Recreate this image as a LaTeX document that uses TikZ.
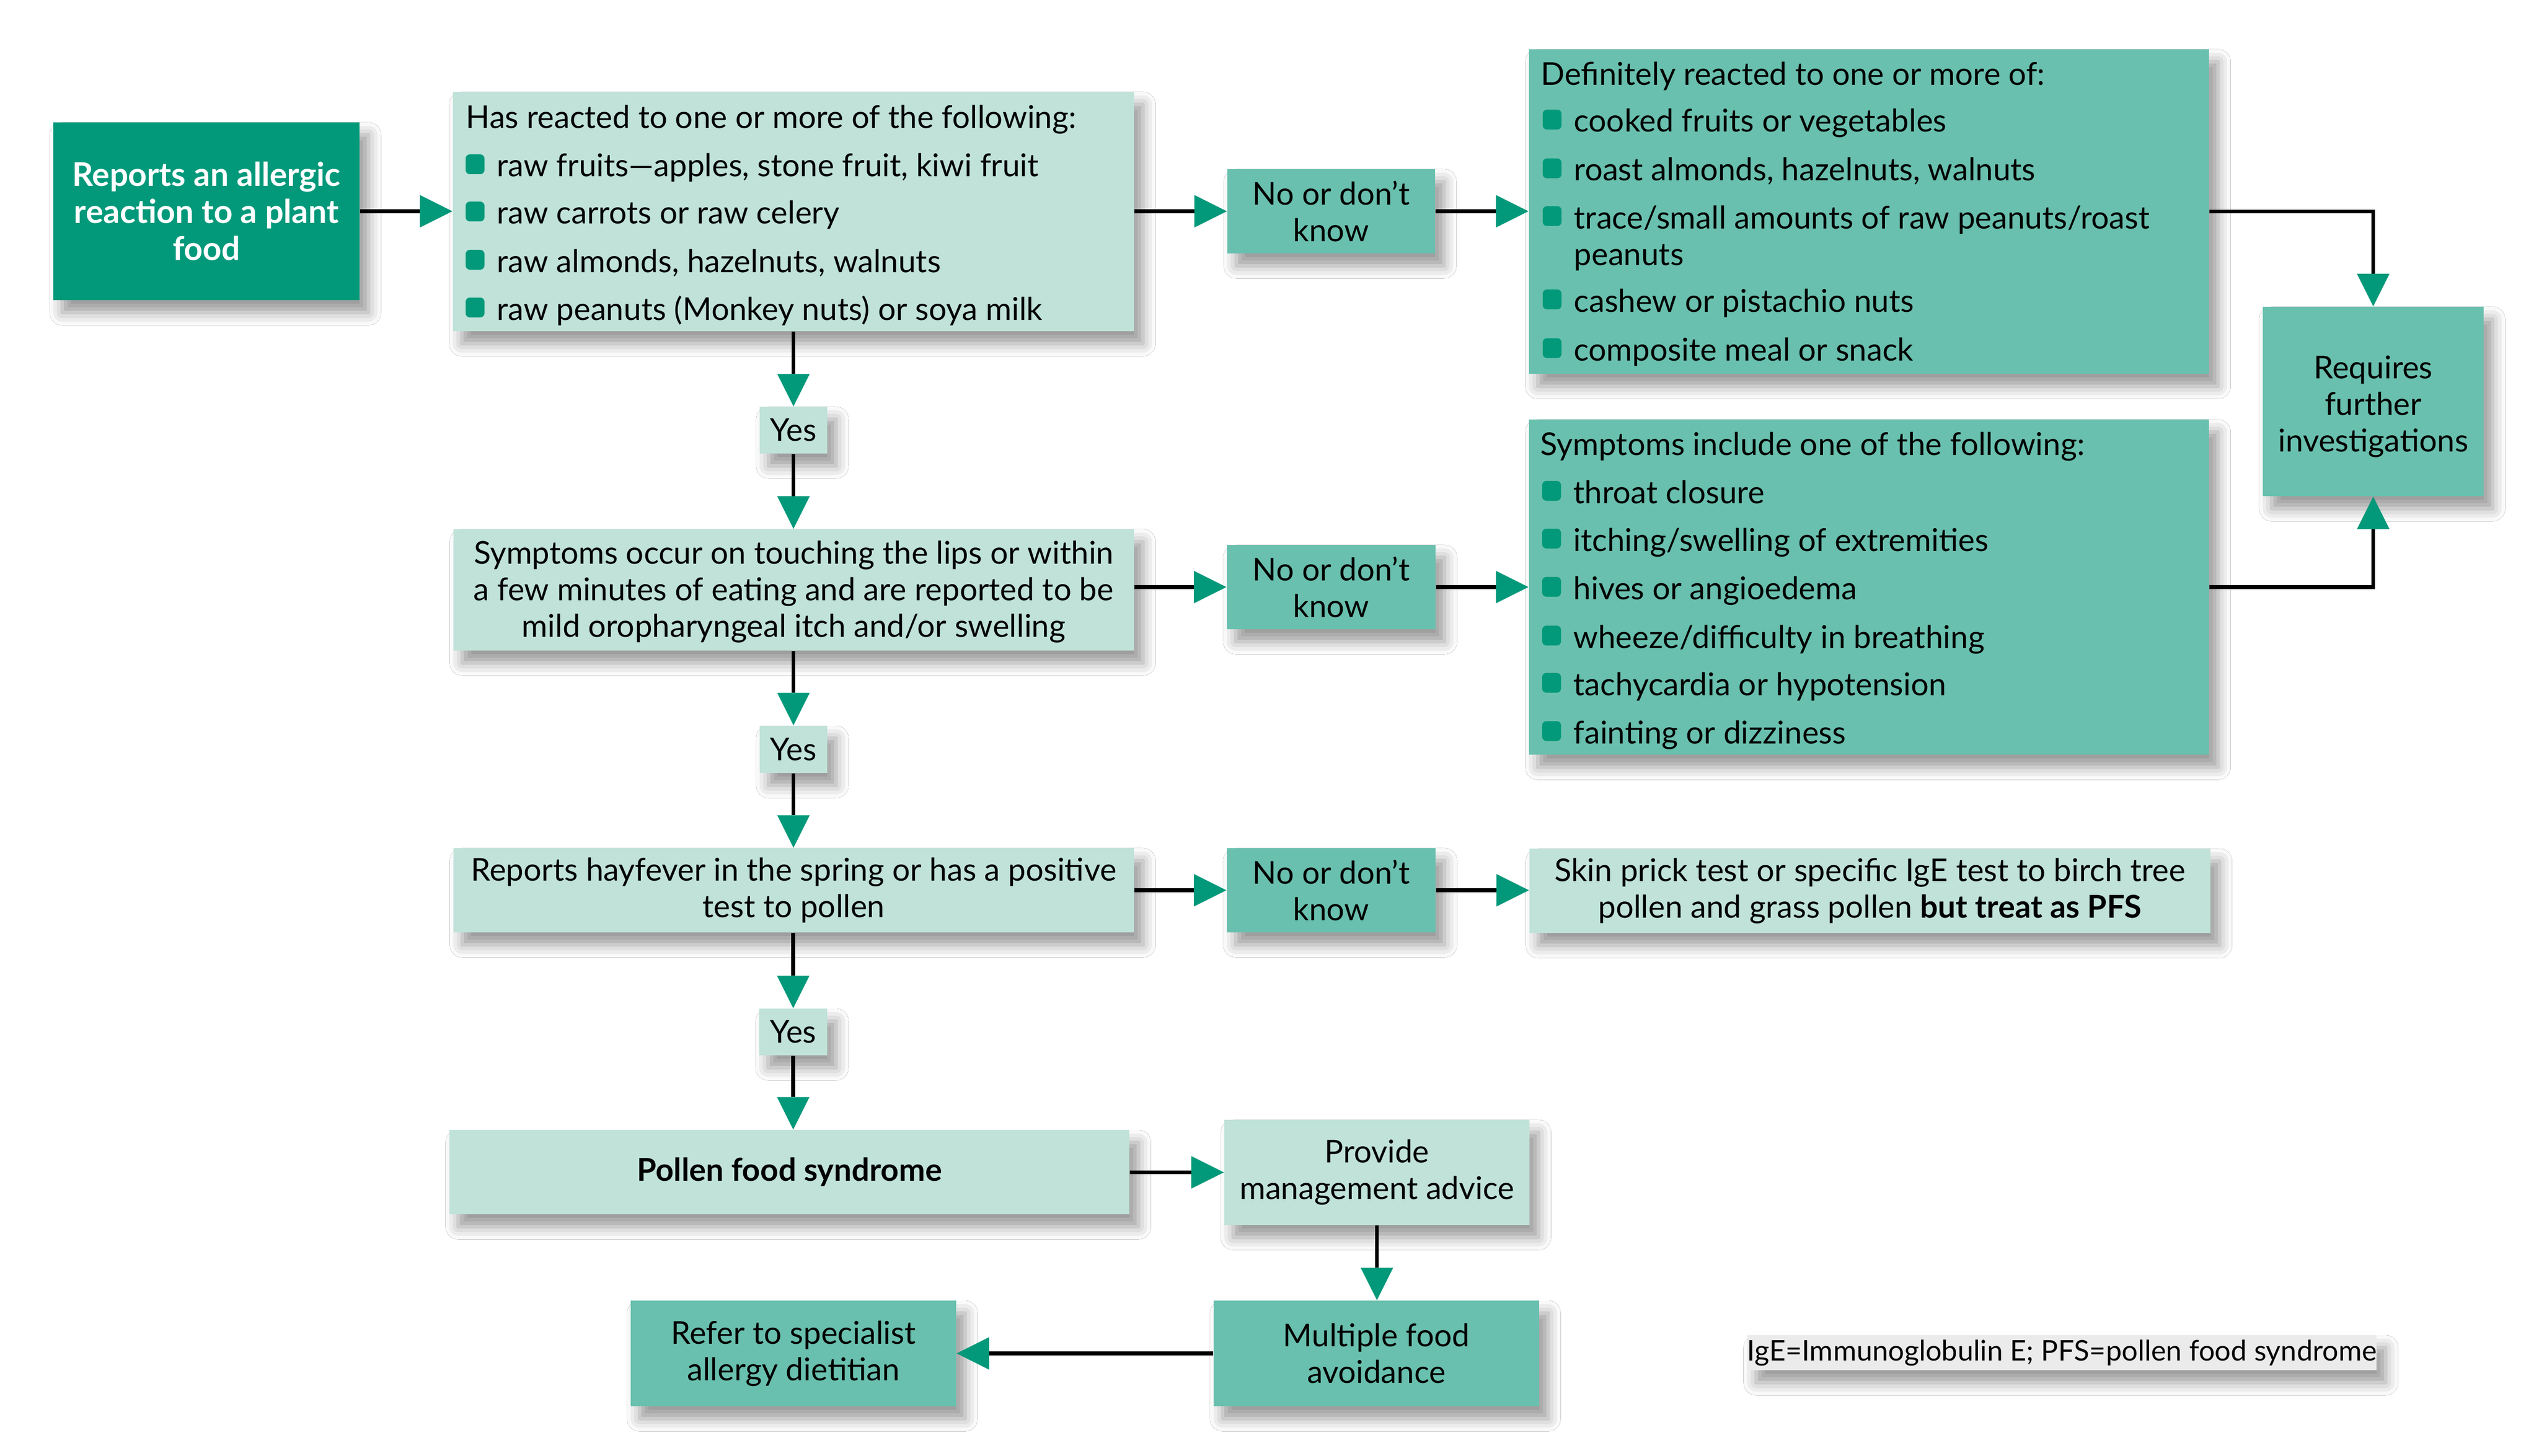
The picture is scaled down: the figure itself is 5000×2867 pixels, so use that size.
\documentclass[tikz,border=0pt]{standalone}
\usepackage{fontspec}
\setmainfont{Lato}
\usetikzlibrary{arrows.meta,shadows.blur}
\definecolor{dgreen}{RGB}{2,153,122}
\definecolor{mteal}{RGB}{105,192,174}
\definecolor{lteal}{RGB}{192,226,217}
\definecolor{lgray}{RGB}{235,235,235}
\newcommand{\fsz}{\fontsize{17.6}{20.5}\selectfont}
\tikzset{
  boxbase/.style={inner sep=0pt, align=center, font=\fsz, text=black,
    blur shadow={shadow xshift=5pt, shadow yshift=-7pt, shadow blur radius=7pt, shadow opacity=40}},
  wh/.style 2 args={minimum width=#1cm, minimum height=#2cm},
  darkbox/.style={boxbase, fill=dgreen, text=white, font=\bfseries\fontsize{18.3}{20.8}\selectfont},
  midbox/.style={boxbase, fill=mteal},
  lightbox/.style={boxbase, fill=lteal},
  legendbox/.style={boxbase, fill=lgray, font=\fontsize{15.9}{19}\selectfont},
  txt/.style={inner sep=0pt, anchor=base west, font=\fsz},
  arr/.style={draw=black, line width=2.1pt,
    -{Triangle[length=18.2pt,width=18.2pt,color=dgreen,line width=0pt]}},
}
\newcommand{\sqbul}[2]{\fill[dgreen, rounded corners=2.3pt] (#1,#2-44) rectangle (#1+37,#2-5);}
\newcommand{\litem}[4]{\sqbul{#2}{#3}\node[txt] (#1) at (#2+61,#3) {#4};}
\newcommand{\tallstrut}{\rule{0pt}{18.5pt}}
\begin{document}
\begin{tikzpicture}[x=0.01cm, y=-0.01cm]
\fill[white] (0,0) rectangle (5000,2867);
\useasboundingbox (0,0) rectangle (5000,2867);

% boxes
\node[darkbox, wh={6.03}{3.50}] (b1) at (406.5,416) {Reports an allergic\\reaction to a plant\\food};
\node[lightbox, wh={13.41}{4.71}] (b2) at (1562.5,416.5) {};
\node[midbox, wh={4.09}{1.66}] (no1) at (2621.5,416) {No or don’t\\know};
\node[midbox, wh={13.39}{6.39}] (def) at (3680.5,416.5) {};
\node[midbox, wh={4.35}{3.73}] (req) at (4673.5,790.5) {\tallstrut Requires\\further\\investigations};
\node[lightbox, wh={1.33}{0.92}] (yes1) at (1562.5,847) {Yes};
\node[lightbox, wh={13.40}{2.39}] (sym) at (1563,1161.5) {\rule{0pt}{15pt}Symptoms occur on touching the lips or within\\a few minutes of eating and are reported to be\\mild oropharyngeal itch and/or swelling};
\node[midbox, wh={4.11}{1.66}] (no2) at (2621.5,1156) {No or don’t\\know};
\node[midbox, wh={13.39}{6.60}] (slist) at (3680.5,1156) {};
\node[lightbox, wh={1.33}{0.93}] (yes2) at (1562.5,1475.5) {Yes};
\node[lightbox, wh={13.40}{1.66}] (hay) at (1563,1753) {Reports hayfever in the spring or has a positive\\test to pollen};
\node[midbox, wh={4.11}{1.66}] (no3) at (2621.5,1753) {No or don’t\\know};
\node[lightbox, wh={13.41}{1.66}] (skin) at (3682.5,1754) {Skin prick test or specific IgE test to birch tree\\pollen and grass pollen \textbf{but treat as PFS}};
\node[lightbox, wh={1.34}{0.92}] (yes3) at (1562,2032) {Yes};
\node[lightbox, wh={13.39}{1.66}] (pfs) at (1554.5,2308) {\textbf{Pollen food syndrome}};
\node[lightbox, wh={6.01}{2.07}] (prov) at (2711.5,2308.5) {Provide\\management advice};
\node[midbox, wh={6.41}{2.08}] (mult) at (2710.5,2665) {Multiple food\\avoidance};
\node[midbox, wh={6.41}{2.08}] (refer) at (1562.5,2665) {Refer to specialist\\allergy dietitian};
\node[legendbox, wh={12.39}{0.69}] (legend) at (4060.5,2663.5) {IgE=Immunoglobulin E; PFS=pollen food syndrome};

% list texts
\node[txt] (b2t) at (917,253) {Has reacted to one or more of the following:};
\litem{b2a}{917}{348}{raw fruits—apples, stone fruit, kiwi fruit}
\litem{b2b}{917}{441}{raw carrots or raw celery}
\litem{b2c}{917}{536}{raw almonds, hazelnuts, walnuts}
\litem{b2d}{917}{630}{raw peanuts (Monkey nuts) or soya milk}

\node[txt] (deft) at (3034,168) {Definitely reacted to one or more of:};
\litem{defa}{3038}{260}{cooked fruits or vegetables}
\litem{defb}{3038}{356}{roast almonds, hazelnuts, walnuts}
\litem{defc}{3038}{450}{trace/small amounts of raw peanuts/roast}
\node[txt] (defc2) at (3099,522) {peanuts};
\litem{defd}{3038}{614}{cashew or pistachio nuts}
\litem{defe}{3038}{710}{composite meal or snack}

\node[txt] (slt) at (3033,896) {Symptoms include one of the following:};
\litem{sla}{3037}{991}{throat closure}
\litem{slb}{3037}{1085}{itching/swelling of extremities}
\litem{slc}{3037}{1180}{hives or angioedema}
\litem{sld}{3037}{1276}{wheeze/difficulty in breathing}
\litem{sle}{3037}{1369}{tachycardia or hypotension}
\litem{slf}{3037}{1464}{fainting or dizziness}

% connectors
\draw[arr] (b1.east) -- (b1.east -| b2.west);
\draw[arr] (b2.east |- no1.west) -- (no1.west);
\draw[arr] (no1.east) -- (no1.east -| def.west);
\draw[arr] (def.east) -| (req.north);
\draw[arr] (b2.south -| yes1.north) -- (yes1.north);
\draw[arr] (yes1.south) -- (yes1.south |- sym.north);
\draw[arr] (sym.east |- no2.west) -- (no2.west);
\draw[arr] (no2.east) -- (no2.east -| slist.west);
\draw[arr] (slist.east) -| (req.south);
\draw[arr] (sym.south -| yes2.north) -- (yes2.north);
\draw[arr] (yes2.south) -- (yes2.south |- hay.north);
\draw[arr] (hay.east |- no3.west) -- (no3.west);
\draw[arr] (no3.east) -- (no3.east -| skin.west);
\draw[arr] (hay.south -| yes3.north) -- (yes3.north);
\draw[arr] (yes3.south) -- (yes3.south |- pfs.north);
\draw[arr] (pfs.east |- prov.west) -- (prov.west);
\draw[arr] (prov.south) -- (prov.south |- mult.north);
\draw[arr] (mult.west) -- (mult.west -| refer.east);
\end{tikzpicture}
\end{document}
